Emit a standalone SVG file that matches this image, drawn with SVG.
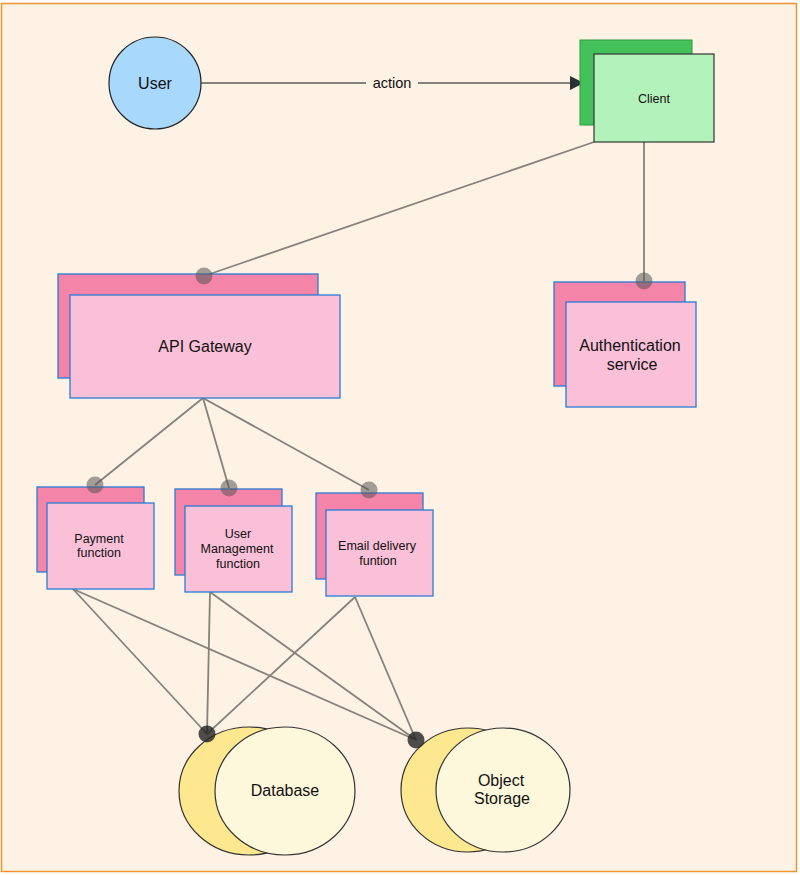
<svg xmlns="http://www.w3.org/2000/svg" width="800" height="875" viewBox="0 0 800 875">
<defs>
<style>
text{font-family:"Liberation Sans",Arial,sans-serif;fill:#111;text-anchor:middle}
.back{fill:#f484a8;stroke:#2a7bd6;stroke-width:1.3}
.front{fill:#fac0d8;stroke:#2a7bd6;stroke-width:1.3}
.ln{stroke:#85827c;stroke-width:1.8;fill:none}
.dot{fill:#555;fill-opacity:0.55}
.ddot{fill:#222;fill-opacity:0.8}
.eb{fill:#fde78f;stroke:#333;stroke-width:1.2}
.ef{fill:#fdf7dc;stroke:#333;stroke-width:1.2}
.t16{font-size:16px}
.t12{font-size:12.5px}
</style>
<marker id="arr" markerWidth="14" markerHeight="14" refX="13" refY="7" orient="auto" markerUnits="userSpaceOnUse">
<path d="M0,0 L14,7 L0,14 z" fill="#2c2f36"/>
</marker>
</defs>
<rect x="1.5" y="3.5" width="795" height="868" fill="#fdf2e4" stroke="#f0922e" stroke-width="1.5"/>

<g id="connectors">
<line class="ln" x1="201" y1="83" x2="366" y2="83"/>
<line class="ln" x1="418" y1="83" x2="583" y2="83" marker-end="url(#arr)"/>
<text x="392" y="88" style="font-size:14.5px">action</text>
<line class="ln" x1="594" y1="142" x2="204" y2="276"/>
<line class="ln" x1="644" y1="142" x2="644" y2="281"/>
<line class="ln" x1="203" y1="398" x2="95" y2="485"/>
<line class="ln" x1="203" y1="398" x2="229" y2="488"/>
<line class="ln" x1="203" y1="398" x2="369" y2="490"/>
<line class="ln" x1="73" y1="589" x2="207" y2="734"/>
<line class="ln" x1="73" y1="589" x2="416" y2="740"/>
<line class="ln" x1="210" y1="592" x2="207" y2="734"/>
<line class="ln" x1="210" y1="592" x2="416" y2="740"/>
<line class="ln" x1="355" y1="597" x2="207" y2="734"/>
<line class="ln" x1="355" y1="597" x2="416" y2="740"/>
</g>

<g id="user">
<circle cx="155" cy="83" r="46" fill="#a8d8fc" stroke="#222" stroke-width="1.2"/>
<text class="t16" x="155" y="89">User</text>
</g>

<g id="client">
<rect x="580" y="40" width="112" height="85" fill="#44c15a" stroke="#2a9a3e" stroke-width="1"/>
<rect x="594" y="54" width="120" height="88" fill="#b3f2bb" stroke="#333" stroke-width="1.2"/>
<text class="t12" x="654" y="103">Client</text>
</g>

<g id="api-gateway">
<rect class="back" x="58" y="274" width="260" height="104"/>
<rect class="front" x="70" y="295" width="270" height="103"/>
<text class="t16" x="205" y="352">API Gateway</text>
<circle class="dot" cx="204" cy="276" r="8.5"/>
</g>

<g id="auth-service">
<rect class="back" x="554" y="282" width="131" height="104"/>
<rect class="front" x="566" y="302" width="130" height="105"/>
<text class="t16" x="630" y="351">Authentication</text>
<text class="t16" x="632" y="370">service</text>
<circle class="dot" cx="644" cy="281" r="8.5"/>
</g>

<g id="payment">
<rect class="back" x="37" y="487" width="107" height="85"/>
<rect class="front" x="47" y="503" width="107" height="86"/>
<text class="t12" x="99" y="543">Payment</text>
<text class="t12" x="99" y="557">function</text>
<circle class="dot" cx="95" cy="485" r="8.5"/>
</g>

<g id="user-management">
<rect class="back" x="175" y="489" width="107" height="86"/>
<rect class="front" x="185" y="506" width="107" height="86"/>
<text class="t12" x="238" y="538">User</text>
<text class="t12" x="237" y="553">Management</text>
<text class="t12" x="238" y="568">function</text>
<circle class="dot" cx="229" cy="488" r="8.5"/>
</g>

<g id="email-delivery">
<rect class="back" x="316" y="493" width="107" height="86"/>
<rect class="front" x="326" y="510" width="107" height="86"/>
<text class="t12" x="377" y="550">Email delivery</text>
<text class="t12" x="378" y="565">funtion</text>
<circle class="dot" cx="369" cy="490" r="8.5"/>
</g>

<g id="database">
<ellipse class="eb" cx="249" cy="791" rx="70" ry="64"/>
<ellipse class="ef" cx="285" cy="791" rx="70" ry="64"/>
<text class="t16" x="285" y="796">Database</text>
<circle class="ddot" cx="207" cy="734" r="8.5"/>
</g>

<g id="object-storage">
<ellipse class="eb" cx="468" cy="790" rx="67" ry="62"/>
<ellipse class="ef" cx="503" cy="790" rx="67" ry="62"/>
<text class="t16" x="501" y="786">Object</text>
<text class="t16" x="502" y="804">Storage</text>
<circle class="ddot" cx="416" cy="740" r="8.5"/>
</g>
</svg>
